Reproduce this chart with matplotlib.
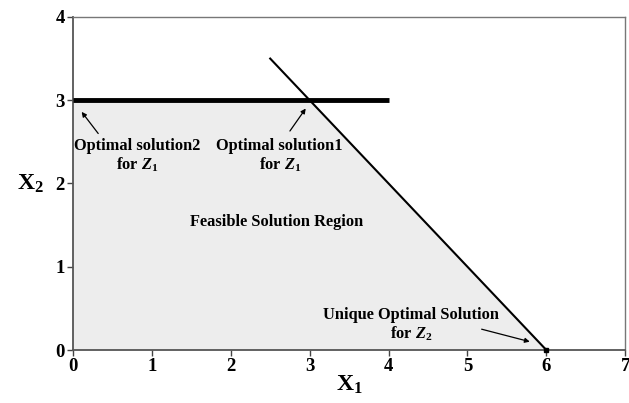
import matplotlib.pyplot as plt

plt.rcParams['font.family'] = ['Liberation Serif', 'DejaVu Serif']
plt.rcParams['font.weight'] = 'bold'
plt.rcParams['mathtext.fontset'] = 'custom'
plt.rcParams['mathtext.rm'] = 'Liberation Serif:bold'
plt.rcParams['mathtext.it'] = 'Liberation Serif:italic:bold'
plt.rcParams['mathtext.bf'] = 'Liberation Serif:bold'

# feasible region corners
region_x = [0, 0, 3, 6]
region_y = [0, 3, 3, 0]

# objective Z1 level line (thick) and constraint line
z1_x = [0, 4]
z1_y = [3, 3]
con_x = [2.5, 6]
con_y = [3.5, 0]

opt_z2 = (6, 0)

xticks = [0, 1, 2, 3, 4, 5, 6, 7]
yticks = [0, 1, 2, 3, 4]

fig = plt.figure(figsize=(6.29, 4.03), dpi=100)
ax = fig.add_axes([0.116, 0.1315, 0.878, 0.8265])

ax.fill(region_x, region_y, color='#ededed', zorder=1)
ax.plot(con_x, con_y, color='black', lw=1.5, zorder=3)
ax.plot(z1_x, z1_y, color='black', lw=3.5, solid_capstyle='butt', zorder=4)
ax.plot([opt_z2[0]], [opt_z2[1]], marker='s', color='black', ms=3.5, zorder=5, clip_on=False)

ax.set_xlim(0, 7)
ax.set_ylim(0, 4)
ax.set_xticks(xticks)
ax.set_yticks(yticks)
ax.tick_params(labelsize=13.5, length=4, width=1, color='#444444', pad=2)
for lab in ax.get_xticklabels() + ax.get_yticklabels():
    lab.set_fontweight('bold')
for s in ['left', 'bottom']:
    ax.spines[s].set_color('#555555')
    ax.spines[s].set_linewidth(1.3)
for s in ['top', 'right']:
    ax.spines[s].set_color('#777777')
    ax.spines[s].set_linewidth(1.0)

ax.set_xlabel(r'X$_{\mathregular{1}}$', fontsize=17, fontweight='bold', labelpad=-1)
ax.set_ylabel(r'X$_{\mathregular{2}}$', fontsize=17, fontweight='bold', rotation=0, labelpad=18, va='center')

fs = 11.8
arrow = dict(arrowstyle='-|>', color='black', lw=0.9, mutation_scale=7, shrinkA=0, shrinkB=0)

ax.text(0.81, 2.33, 'Optimal solution2\nfor $Z_1$', ha='center', va='center',
        fontsize=fs, fontweight='bold', linespacing=1.05)
ax.annotate('', xy=(0.11, 2.86), xytext=(0.32, 2.6), arrowprops=arrow)

ax.text(2.62, 2.33, 'Optimal solution1\nfor $Z_1$', ha='center', va='center',
        fontsize=fs, fontweight='bold', linespacing=1.05)
ax.annotate('', xy=(2.95, 2.9), xytext=(2.75, 2.63), arrowprops=arrow)

ax.text(2.58, 1.54, 'Feasible Solution Region', ha='center', va='center',
        fontsize=fs, fontweight='bold')

ax.text(4.29, 0.30, 'Unique Optimal Solution\nfor $Z_2$', ha='center', va='center',
        fontsize=fs, fontweight='bold', linespacing=1.05)
ax.annotate('', xy=(5.79, 0.1), xytext=(5.18, 0.25), arrowprops=arrow)

fig.savefig('out.png', dpi=100)
